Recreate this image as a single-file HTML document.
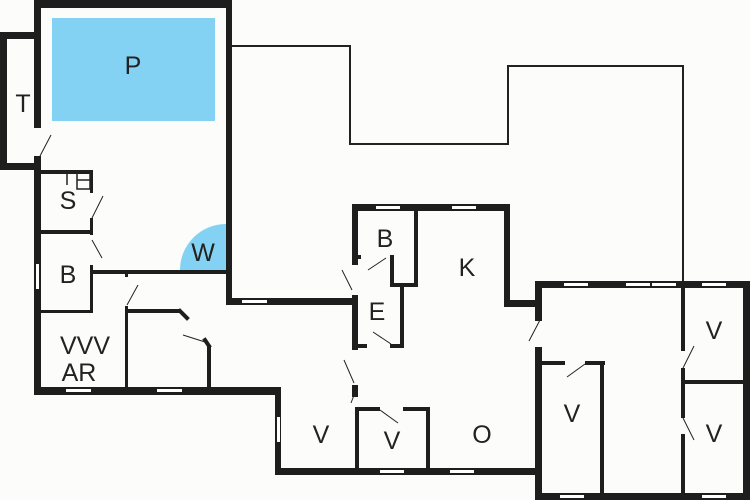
<!DOCTYPE html>
<html><head><style>body{margin:0;background:#fcfcfb}svg{display:block}text{font-family:"Liberation Sans",sans-serif;font-size:25px;fill:#222;text-anchor:middle}</style></head><body>
<svg width="750" height="500" viewBox="0 0 750 500">
<rect width="750" height="500" fill="#fcfcfb"/>
<polyline points="232,46 350,46 350,144 508,144 508,66 683,66 683,281" fill="none" stroke="#222" stroke-width="2"/>
<rect x="52" y="18" width="163" height="103" fill="#83d2f4"/>
<path d="M226,270 L180,270 A46,46 0 0 1 226,224 Z" fill="#83d2f4"/>
<g fill="#1e1e1e">
<rect x="34" y="0" width="198" height="8"/>
<rect x="34" y="0" width="7" height="128"/>
<rect x="34" y="156" width="7" height="239"/>
<rect x="226" y="0" width="6" height="305"/>
<rect x="0" y="32" width="41" height="7"/>
<rect x="0" y="32" width="7" height="138"/>
<rect x="0" y="163" width="41" height="7"/>
<rect x="40" y="170" width="53" height="4"/>
<rect x="90" y="170" width="3" height="23"/>
<rect x="90" y="218" width="3" height="17"/>
<rect x="40" y="230" width="53" height="4"/>
<rect x="90" y="265" width="3" height="48"/>
<rect x="92" y="270" width="136" height="4"/>
<rect x="40" y="310" width="53" height="3"/>
<rect x="125" y="273" width="3" height="4"/>
<rect x="125" y="306" width="3" height="84"/>
<rect x="128" y="309" width="52" height="4"/>
<rect x="207" y="345" width="4" height="45"/>
<rect x="34" y="387" width="247" height="8"/>
<rect x="226" y="298" width="131" height="7"/>
<rect x="275" y="388" width="6" height="87"/>
<rect x="275" y="468" width="267" height="7"/>
<rect x="352" y="204" width="158" height="7"/>
<rect x="352" y="204" width="6" height="61"/>
<rect x="352" y="295" width="6" height="55"/>
<rect x="352" y="385" width="6" height="12"/>
<rect x="355" y="407" width="4" height="64"/>
<rect x="504" y="204" width="6" height="103"/>
<rect x="504" y="300" width="38" height="7"/>
<rect x="414" y="211" width="4" height="76"/>
<rect x="390" y="283" width="28" height="4"/>
<rect x="390" y="255" width="4" height="32"/>
<rect x="355" y="255" width="6" height="4"/>
<rect x="400" y="287" width="4" height="61"/>
<rect x="355" y="344" width="12" height="4"/>
<rect x="390" y="344" width="14" height="4"/>
<rect x="355" y="407" width="25" height="4"/>
<rect x="403" y="407" width="27" height="4"/>
<rect x="426" y="407" width="4" height="64"/>
<rect x="535" y="281" width="215" height="7"/>
<rect x="535" y="281" width="7" height="40"/>
<rect x="535" y="347" width="7" height="153"/>
<rect x="743" y="281" width="7" height="219"/>
<rect x="535" y="493" width="215" height="7"/>
<rect x="542" y="361" width="23" height="4"/>
<rect x="585" y="361" width="20" height="4"/>
<rect x="600" y="361" width="4" height="134"/>
<rect x="681" y="281" width="4" height="70"/>
<rect x="681" y="368" width="4" height="50"/>
<rect x="681" y="434" width="4" height="62"/>
<rect x="684" y="380" width="62" height="4"/>
</g>
<g stroke="#1e1e1e" stroke-width="4" stroke-linecap="square">
<line x1="180" y1="311" x2="187" y2="318"/>
<line x1="205" y1="340" x2="209" y2="346"/>
</g>
<g fill="#fff">
<rect x="242" y="300" width="25" height="3"/>
<rect x="66" y="389" width="25" height="3"/>
<rect x="157" y="389" width="25" height="3"/>
<rect x="36" y="264" width="3" height="25"/>
<rect x="277" y="417" width="3" height="25"/>
<rect x="376" y="206" width="24" height="3"/>
<rect x="452" y="206" width="24" height="3"/>
<rect x="380" y="470" width="24" height="3"/>
<rect x="450" y="470" width="24" height="3"/>
<rect x="564" y="283" width="24" height="3"/>
<rect x="626" y="283" width="24" height="3"/>
<rect x="652" y="283" width="24" height="3"/>
<rect x="702" y="283" width="24" height="3"/>
<rect x="560" y="495" width="24" height="3"/>
<rect x="702" y="495" width="24" height="3"/>
</g>
<g stroke="#222" stroke-width="1" fill="none">
<line x1="40" y1="156" x2="51" y2="135"/>
<line x1="92" y1="218" x2="103" y2="196"/>
<line x1="92" y1="240" x2="102" y2="258"/>
<line x1="127" y1="305" x2="138" y2="285"/>
<line x1="183" y1="335" x2="205" y2="342"/>
<line x1="352" y1="290" x2="342" y2="270"/>
<line x1="354" y1="383" x2="344" y2="360"/>
<line x1="356" y1="390" x2="351" y2="403"/>
<line x1="368" y1="270" x2="386" y2="258"/>
<line x1="373" y1="332" x2="391" y2="344"/>
<line x1="380" y1="410" x2="398" y2="423"/>
<line x1="540" y1="320" x2="529" y2="341"/>
<line x1="567" y1="377" x2="585" y2="364"/>
<line x1="683" y1="368" x2="694" y2="346"/>
<line x1="683" y1="418" x2="694" y2="440"/>
</g>
<g stroke="#222" stroke-width="1.5" fill="none">
<line x1="60" y1="172" x2="74" y2="172"/>
<line x1="67" y1="172" x2="67" y2="185"/>
<rect x="77" y="171" width="13" height="18"/>
<line x1="77" y1="180" x2="90" y2="180"/>
</g>
<text x="133" y="74">P</text>
<text x="23" y="112">T</text>
<text x="68" y="209">S</text>
<text x="203" y="261">W</text>
<text x="68" y="283">B</text>
<text x="85" y="354">VVV</text>
<text x="79" y="381">AR</text>
<text x="385" y="247">B</text>
<text x="467" y="276">K</text>
<text x="377" y="320">E</text>
<text x="321" y="443">V</text>
<text x="392" y="449">V</text>
<text x="482" y="443">O</text>
<text x="572" y="422">V</text>
<text x="714" y="339">V</text>
<text x="714" y="442">V</text>
</svg>
</body></html>
